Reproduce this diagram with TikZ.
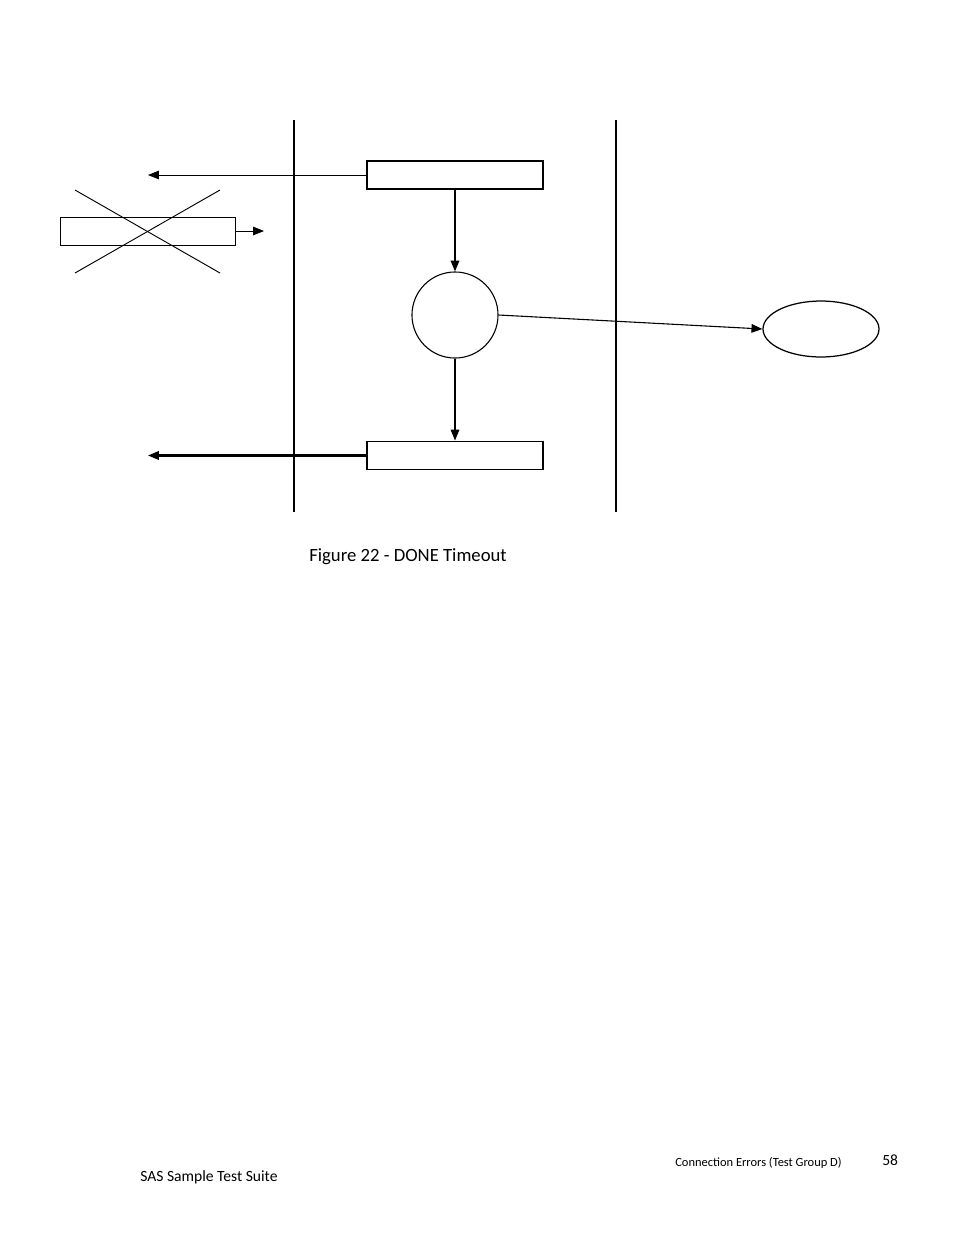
\documentclass[tikz,border=0pt]{standalone}
\usepackage{fontspec}
\setmainfont{Carlito}
\usetikzlibrary{arrows.meta,shapes.geometric}

\begin{document}
\begin{tikzpicture}[x=0.6415pt,y=-0.6415pt,
    lifeline/.style={line width=1.3pt},
    framebox/.style={draw,rectangle,inner sep=0pt,minimum width=112.9pt,minimum height=18pt},
    msg/.style={-{Triangle[length=7pt,width=5.5pt]}}]
    \useasboundingbox (0,0) rectangle (954,1235);

    \draw[lifeline] (294,120) -- (294,512);
    \draw[lifeline] (616,120) -- (616,512);

    \node[framebox, line width=0.9pt] (FTOP) at (455,175) {};
    \node[framebox, line width=1.2pt] (FBOT) at (455,455.5) {};
    \node[framebox, line width=0.6pt, minimum width=112.3pt] (FOLD) at (147.5,231) {};
    \node[draw, circle, inner sep=0pt, minimum size=55.2pt, line width=0.7pt] (CHK) at (455,315) {};
    \node[draw, ellipse, inner sep=0pt, minimum width=74.4pt, minimum height=35.9pt, line width=0.8pt] (ACK) at (821,329) {};

    \coordinate (t1) at (148,175);
    \coordinate (t2) at (148,455.5);
    \coordinate (t3) at (264,231);

    \draw[line width=0.6pt] (75,190) -- (220,273);
    \draw[line width=0.6pt] (75,273) -- (220,190);

    \draw[msg, line width=0.6pt] (FTOP.west) -- (t1);
    \draw[msg, line width=1.1pt] (FTOP.south) -- (CHK.north);
    \draw[msg, line width=0.8pt] (CHK.south) -- (FBOT.north);
    \draw[msg, line width=1.3pt] (FBOT.west) -- (t2);
    \draw[msg, line width=0.6pt] (FOLD.east) -- (t3);
    \draw[msg, line width=0.7pt] (CHK.east) -- (ACK.west);

    \node[anchor=base west, inner sep=0pt, font=\fontsize{12}{14}\selectfont] (cap) at (309,561) {Figure 22 - DONE Timeout};
    \node[anchor=base west, inner sep=0pt] (foot) at (140,1181) {SAS Sample Test Suite};
    \node[anchor=base west, inner sep=0pt, font=\fontsize{8}{10}\selectfont] (sect) at (675,1166) {Connection Errors (Test Group D)};
    \node[anchor=base west, inner sep=0pt] (page) at (882,1165) {58};
\end{tikzpicture}
\end{document}
